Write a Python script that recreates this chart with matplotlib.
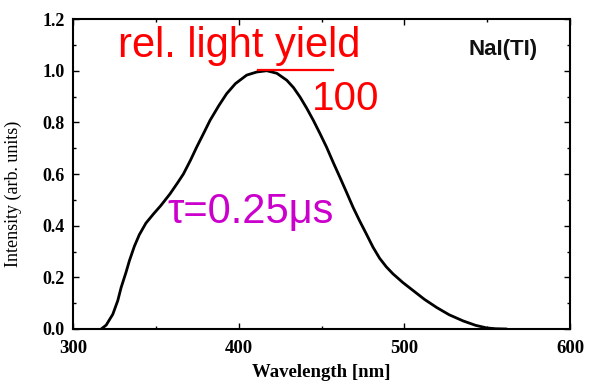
#!/usr/bin/env python3
import matplotlib
matplotlib.use("Agg")
import matplotlib.pyplot as plt
from matplotlib.ticker import MultipleLocator

# NaI(Tl) emission spectrum
wavelength = [317, 320, 324, 327, 329, 332, 334, 337, 340, 344, 348.5, 353, 358.5,
              363, 366.6, 371, 374.6, 379, 382.7, 388, 392.7, 398, 404.8, 410.9,
              416.9, 423, 429, 433, 437, 441, 445, 449, 453, 457, 461, 465, 469,
              473, 477, 481, 485, 489, 493, 499, 505, 512, 519.5, 527, 535.5, 543,
              549.7, 555, 561.7]
intensity = [0.0, 0.015, 0.057, 0.11, 0.16, 0.22, 0.264, 0.32, 0.365, 0.41, 0.445,
             0.478, 0.523, 0.565, 0.60, 0.655, 0.704, 0.76, 0.808, 0.865, 0.911,
             0.95, 0.983, 0.995, 1.0, 0.99, 0.963, 0.935, 0.898, 0.855, 0.808,
             0.757, 0.704, 0.645, 0.588, 0.53, 0.471, 0.418, 0.368, 0.317, 0.274,
             0.241, 0.214, 0.18, 0.15, 0.115, 0.083, 0.055, 0.031, 0.014, 0.004,
             0.001, 0.0]

x_ticks = [300, 400, 500, 600]
y_ticks = [0.0, 0.2, 0.4, 0.6, 0.8, 1.0, 1.2]

SERIF = "Liberation Serif"
SANS = "Liberation Sans"
MAGENTA = "#CC00CC"

fig = plt.figure(figsize=(5.89, 3.85), dpi=100)
ax = fig.add_axes([0.124, 0.1455, 0.844, 0.805])

ax.plot(wavelength, intensity, color="black", lw=2.0, solid_capstyle="round")

ax.set_xlim(300, 600)
ax.set_ylim(0, 1.2)
ax.set_xticks(x_ticks)
ax.set_yticks(y_ticks)
ax.set_yticklabels([f"{v:.1f}" for v in y_ticks])
ax.xaxis.set_minor_locator(MultipleLocator(50))
ax.yaxis.set_minor_locator(MultipleLocator(0.1))
ax.tick_params(which="both", direction="in", top=True, right=True, width=1.0)
ax.tick_params(which="major", length=4)
ax.tick_params(which="minor", length=2.5)
ax.tick_params(axis="x", pad=8)
ax.tick_params(axis="y", pad=6)
for lab in ax.get_xticklabels():
    lab.set_fontfamily(SERIF)
    lab.set_fontweight("bold")
    lab.set_fontsize(13.5)
for lab in ax.get_yticklabels():
    lab.set_fontfamily(SERIF)
    lab.set_fontweight("bold")
    lab.set_fontsize(13)
for sp in ax.spines.values():
    sp.set_linewidth(1.5)

ax.set_xlabel("Wavelength [nm]", fontfamily=SERIF, fontweight="bold", fontsize=13.5)
ax.xaxis.set_label_coords(0.5, -0.112)
ax.set_ylabel("Intensity (arb. units)", fontfamily=SERIF, fontsize=13)
ax.yaxis.set_label_coords(-0.103, 0.435)

# annotations
ax.text(327.2, 1.052, "rel. light yield", color="red", fontfamily=SANS,
        fontsize=30, va="baseline", ha="left", clip_on=False)
ax.plot([411.6, 456.9], [1.002, 1.002], color="red", lw=1.6, clip_on=False)
ax.text(444.2, 0.847, "100", color="red", fontfamily=SANS, fontsize=29,
        va="baseline", ha="left")
ax.text(356.7, 0.412, "τ=0.25μs", color=MAGENTA, fontfamily=SANS, fontsize=30,
        va="baseline", ha="left")
ax.text(538.4, 1.083, "NaI(TI)", color="#111111", fontfamily=SANS,
        fontweight="bold", fontsize=16, va="center", ha="left")

fig.savefig("out.png", dpi=100, facecolor="white")
